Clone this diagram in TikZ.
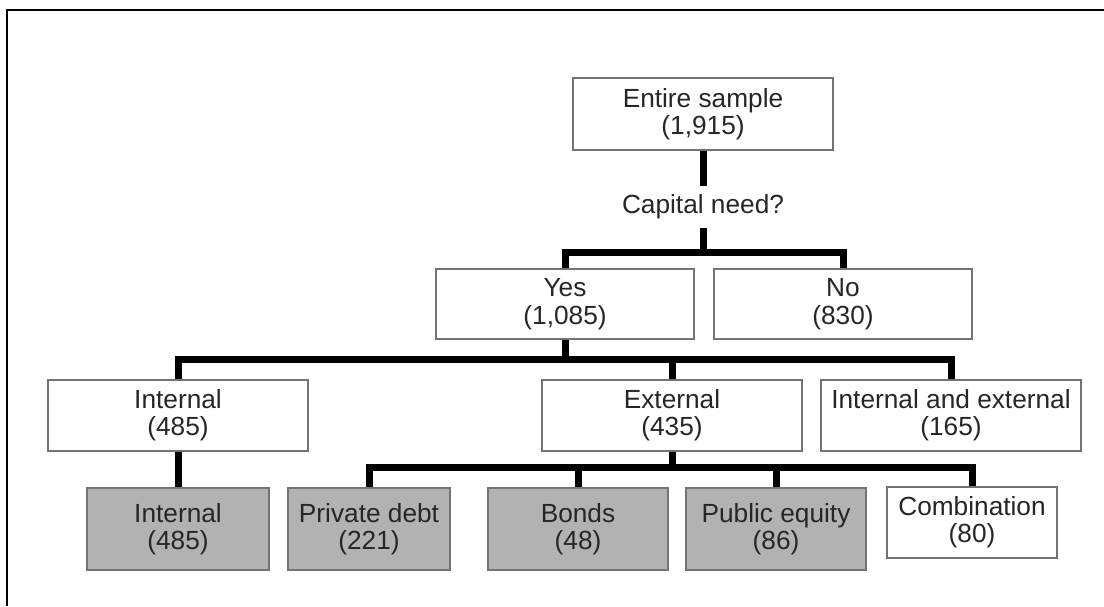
\documentclass[tikz,border=0pt]{standalone}
\usepackage{fontspec}
\setmainfont{Liberation Sans}
\begin{document}
\begin{tikzpicture}[x=0.4pt,y=-0.4pt,
    txt/.style={font=\fontsize{10.5}{11}\selectfont, text=black!85},
    box/.style={txt, draw=black!55, line width=0.8pt, fill=white, align=center,
      inner sep=0pt, minimum width=#1, minimum height=28.4pt},
    shaded/.style={box=#1, fill=black!30, minimum height=33pt},
    link/.style={line width=2.8pt, line join=miter}]
  \useasboundingbox (0,0) rectangle (1104,606);
  \draw[line width=0.8pt] (7,606) -- (7,10) -- (1104,10);
  % top of the tree
  \node[box=104pt, minimum height=28.8pt] (entire) at (703,114) {Entire sample\\(1,915)};
  \node[txt] (need) at (703,207) {Capital need?};
  \node[box=103pt, minimum height=28pt] (yes) at (565,304) {Yes\\(1,085)};
  \node[box=103pt, minimum height=28pt] (no) at (843,304) {No\\(830)};
  % sources of funds
  \node[box=104pt] (int) at (178,415) {Internal\\(485)};
  \node[box=104pt] (ext) at (672,415) {External\\(435)};
  \node[box=104pt] (intext) at (951,415) {Internal and external\\(165)};
  % types of external funds
  \node[shaded=73pt] (intb) at (178,529) {Internal\\(485)};
  \node[shaded=65pt] (pdebt) at (369,529) {Private debt\\(221)};
  \node[shaded=72pt] (bonds) at (578,529) {Bonds\\(48)};
  \node[shaded=72pt] (pequity) at (776,529) {Public equity\\(86)};
  \node[box=68pt] (comb) at (972,522) {Combination\\(80)};
  \coordinate (split1) at (703,252);
  \coordinate (split2) at (565,359);
  \coordinate (split3) at (672,467);
  \draw[link] (entire) -- (need);
  \draw[link] (need) -- (split1);
  \draw[link] (yes.north) |- (split1) -| (no.north);
  \draw[link] (yes) -- (split2);
  \draw[link] (int.north) |- (split2) -| (intext.north);
  \draw[link] (split2) -| (ext.north);
  \draw[link] (int) -- (intb);
  \draw[link] (ext) -- (split3);
  \draw[link] (pdebt.north) |- (split3) -| (comb.north);
  \draw[link] (bonds.north) |- (split3);
  \draw[link] (pequity.north) |- (split3);
\end{tikzpicture}
\end{document}
